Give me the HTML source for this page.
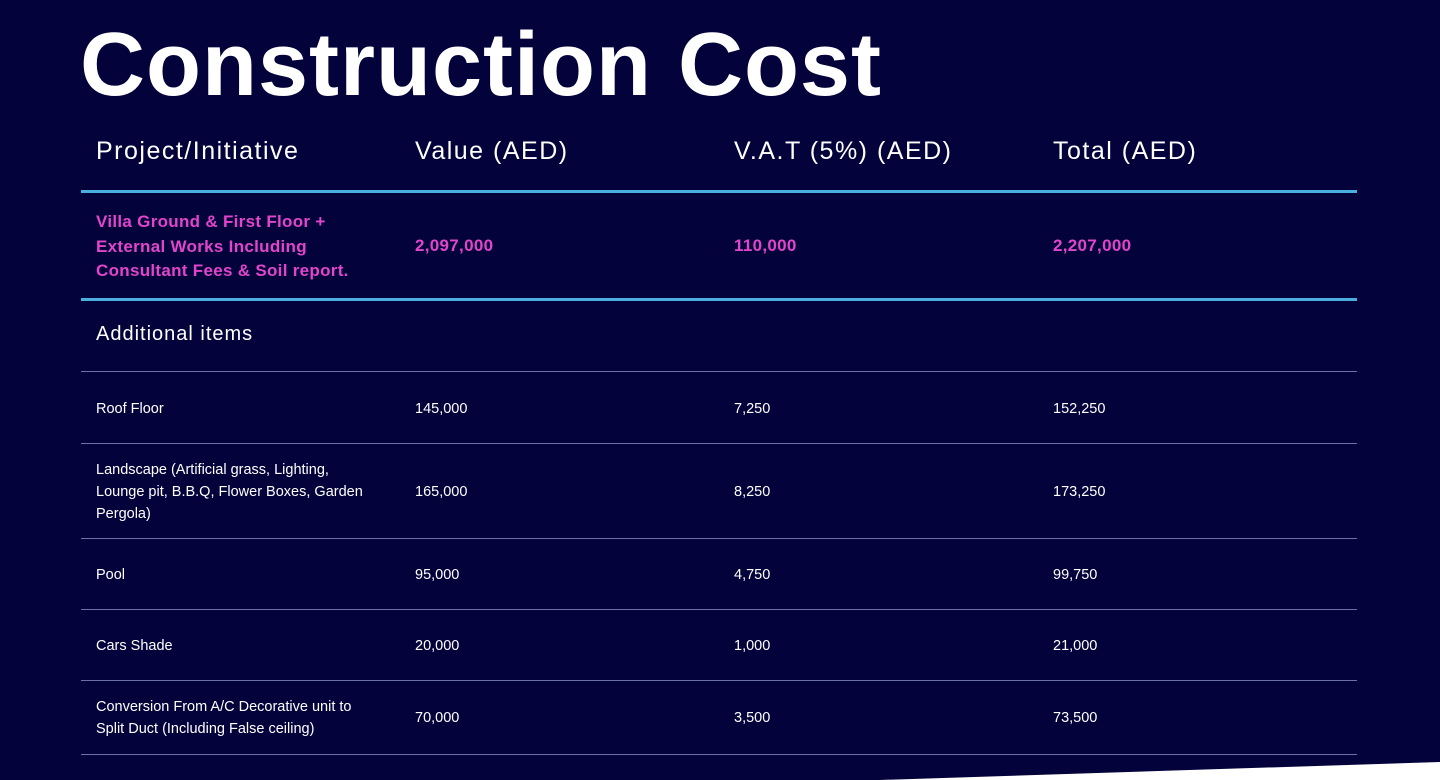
<!DOCTYPE html>
<html><head><meta charset="utf-8"><style>
body{margin:0;width:1440px;height:780px;overflow:hidden;background:#03023a;font-family:"Liberation Sans",sans-serif;position:relative;color:#fff}
.a{position:absolute;white-space:nowrap}
.h{font-size:25px;top:137px;letter-spacing:1.5px}
.p{color:#e245cc;font-weight:bold;font-size:17px;letter-spacing:0.3px}
.r{font-size:14.5px;line-height:22px}
.bl{position:absolute;left:81px;width:1276px;height:3px;background:#4aaede}
.gl{position:absolute;left:81px;width:1276px;height:1px;background:#6b70a8}
</style></head><body>
<div class="a" style="left:80px;top:14px;font-size:90px;font-weight:bold;letter-spacing:1px">Construction Cost</div>
<div class="a h" style="left:96px">Project/Initiative</div>
<div class="a h" style="left:415px">Value (AED)</div>
<div class="a h" style="left:734px">V.A.T (5%) (AED)</div>
<div class="a h" style="left:1053px">Total (AED)</div>
<div class="bl" style="top:190px"></div>
<div class="a p" style="left:96px;top:210px;line-height:24.5px">Villa Ground &amp; First Floor +<br>External Works Including<br>Consultant Fees &amp; Soil report.</div>
<div class="a p" style="left:415px;top:236px">2,097,000</div>
<div class="a p" style="left:734px;top:236px">110,000</div>
<div class="a p" style="left:1053px;top:236px">2,207,000</div>
<div class="bl" style="top:298px"></div>
<div class="a" style="left:96px;top:323px;font-size:20px;letter-spacing:1px">Additional items</div>
<div class="gl" style="top:371px"></div>
<script>
const items=["Roof Floor","Landscape (Artificial grass, Lighting,<br>Lounge pit, B.B.Q, Flower Boxes, Garden<br>Pergola)","Pool","Cars Shade","Conversion From A/C Decorative unit to<br>Split Duct (Including False ceiling)"];
const values=["145,000","165,000","95,000","20,000","70,000"];
const vats=["7,250","8,250","4,750","1,000","3,500"];
const totals=["152,250","173,250","99,750","21,000","73,500"];
const tops=[372,443,538,609,680];
const bottoms=[443,538,609,680,754];
const host=document.body;
items.forEach((it,i)=>{
  const mid=(tops[i]+bottoms[i])/2+1;
  const lines=(it.match(/<br>/g)||[]).length+1;
  [[96,it,'item'],[415,values[i],'value'],[734,vats[i],'vat'],[1053,totals[i],'total']].forEach(([x,t,n],j)=>{
    const d=document.createElement('div');
    d.className='a r';
    d.innerHTML=t;
    const h=(j==0?lines:1)*22;
    d.style.left=x+'px';d.style.top=(mid-h/2)+'px';
    
    
    host.appendChild(d);
  });
  const l=document.createElement('div');
  l.className='gl';l.style.top=bottoms[i]+'px';
  
  
  host.appendChild(l);
});
</script>
<svg class="a" style="left:0;top:0" width="1440" height="780"><polygon points="880,780 1440,762 1440,780" fill="#ffffff"/></svg>
</body></html>
